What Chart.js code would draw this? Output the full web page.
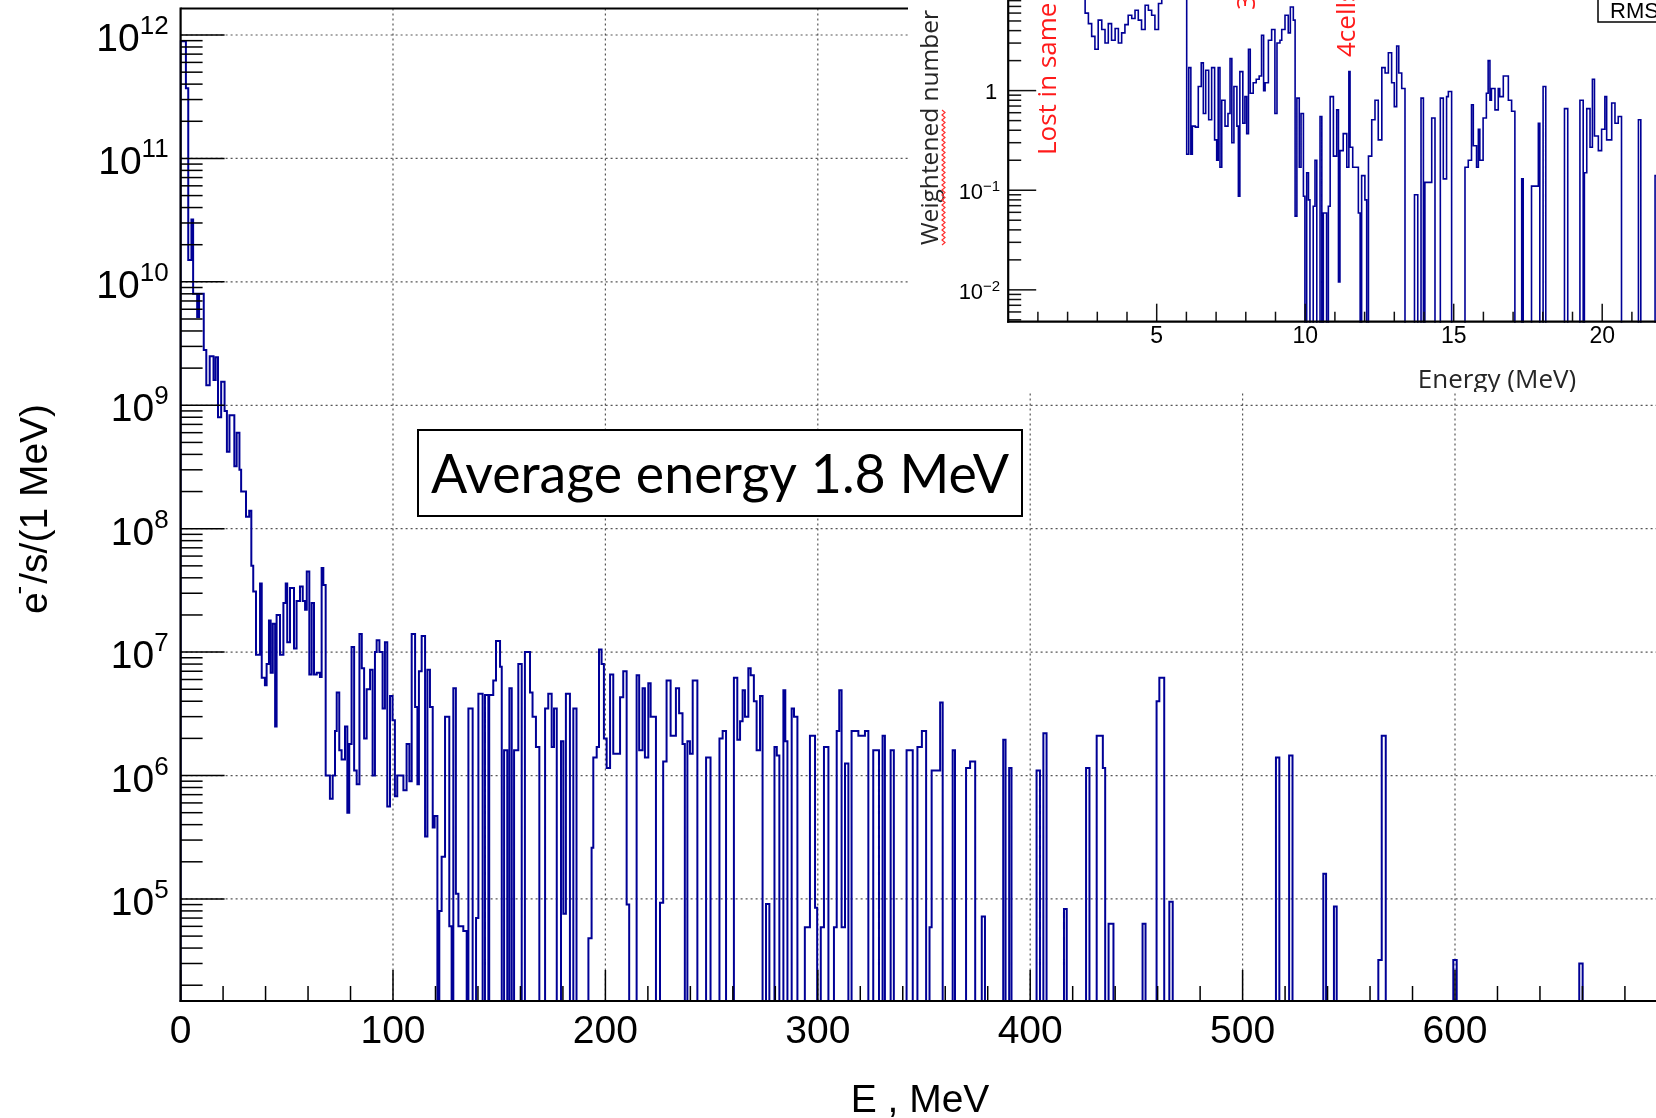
<!DOCTYPE html>
<html>
<head>
<meta charset="utf-8">
<title>Electron energy spectrum</title>
<script src="https://cdn.jsdelivr.net/npm/chart.js@4.4.1/dist/chart.umd.min.js"></script>
<style>
  html, body { margin:0; padding:0; background:#fff; }
  body { width:1656px; height:1118px; overflow:hidden; position:relative; }
  canvas { position:absolute; display:block; }
  #mainChart { left:0; top:0; }
  #insetChart { left:908px; top:-50px; }
</style>
</head>
<body>
<canvas id="mainChart" width="1680" height="1118"></canvas>
<canvas id="insetChart" width="860" height="442"></canvas>
<script>
// ---------------- MAIN HISTOGRAM (bin low edge in MeV, e-/s per MeV; 0 = empty bin) ----------------
const mainEnergyMeV = [
  0, 0, 2.5, 3.6, 5.1, 5.9, 7.8, 8.7, 10.9, 12.1,
  13.7, 15.5, 16.5, 17.6, 19.1, 20.7, 21.8, 23, 25.3, 26.4,
  27.7, 28.5, 30.8, 32.3, 33.3, 34.2, 35.5, 37.4, 38.2, 39.7,
  40.5, 41.6, 42.4, 43.4, 44.5, 45.2, 46.8, 48.4, 49.5, 50.2,
  51.5, 53.4, 54.6, 56.2, 57.5, 58.6, 59.4, 60.6, 61.7, 62.8,
  64.1, 65.6, 66.4, 67.2, 68.3, 70.3, 71.6, 72.7, 73.5, 74.7,
  75.8, 77.4, 78.5, 79.4, 80.5, 81.7, 82.9, 84.2, 85.3, 86.4,
  87.6, 89.2, 90.4, 91.5, 92.3, 93.6, 95.1, 96.2, 97.3, 98.6,
  99.8, 100.9, 102.0, 104.9, 106.4, 107.7, 108.8, 110.4, 111.5, 112.2,
  113.5, 115.1, 116.2, 117.4, 118.7, 119.6, 120.9, 121.8, 122.9, 124.5,
  126.5, 127.6, 128.4, 129.6, 130.8, 133.1, 134.7, 135.5, 137.5, 139.1,
  140.2, 142.2, 143.3, 144.9, 145.3, 147.2, 148.5, 150.4, 151.2, 152.3,
  153.8, 154.8, 155.9, 157.0, 159.0, 160.6, 162.1, 164.5, 165.7, 167.3,
  168.9, 171.6, 173.1, 174.7, 175.8, 177.1, 179.1, 180.2, 181.4, 183.3,
  184.9, 186.4, 192.0, 193.5, 194.3, 195.9, 197.0, 198.2, 199.3, 200.6,
  202.2, 203.7, 205.3, 206.9, 208.4, 210.0, 211.2, 214.7, 215.9, 217.5,
  218.6, 220.2, 221.3, 223.8, 225.7, 227.2, 228.8, 230.7, 233.2, 234.7,
  236.3, 237.4, 238.6, 239.8, 241.1, 243.3, 247.4, 249.5, 253.7, 255.2,
  256.8, 260.5, 262.1, 263.4, 264.6, 265.7, 267.3, 268.4, 269.9, 271.2,
  272.8, 274.0, 275.6, 277.2, 279.6, 280.7, 281.9, 283.8, 284.7, 285.7,
  287.7, 288.8, 290.4, 293.9, 296.3, 298.7, 299.7, 301.4, 302.9, 305.0,
  307.6, 308.9, 310.1, 311.2, 312.8, 314.4, 315.9, 319.1, 322.2, 323.8,
  326.1, 328.8, 330.5, 331.6, 334.3, 335.8, 341.8, 344.7, 346.9, 349.0,
  351.0, 352.6, 353.6, 357.6, 358.8, 363.5, 364.6, 369.8, 371.7, 374.1,
  377.2, 378.7, 387.3, 388.4, 390.1, 391.2, 403.0, 404.6, 406.2, 407.7,
  415.9, 417.2, 426.3, 427.9, 431.3, 434.2, 435.3, 436.9, 439.2, 452.9,
  454.3, 459.5, 460.8, 463.1, 465.5, 467.1, 515.7, 517.3, 521.9, 523.5,
  538.0, 539.3, 543.0, 544.3, 563.9, 565.5, 567.4, 599.2, 600.8, 658.5,
  660.1, 700
];
const mainRate = [
  0, 8.9e11, 3.7e11, 1.5e10, 3.2e10, 8e9, 5.2e9, 8e9, 2.8e9, 1.45e9,
  2.5e9, 1.6e9, 2.45e9, 8e8, 1.55e9, 9e8, 4.2e8, 8.3e8, 3.2e8, 6e8,
  3e8, 2e8, 1.25e8, 1.4e8, 5e7, 3.1e7, 9.5e6, 3.6e7, 6.2e6, 5.4e6,
  8e6, 1.8e7, 6.8e6, 1.7e7, 2.5e6, 2e7, 9.5e6, 2.5e7, 3.6e7, 1.2e7,
  3.3e7, 1.07e7, 2.6e7, 3.4e7, 2.6e7, 2.2e7, 4.5e7, 6.6e6, 2.5e7, 6.6e6,
  6.8e6, 6.3e6, 4.8e7, 3.5e7, 1e6, 6.5e5, 1e6, 2.3e6, 4.7e6, 1.6e6,
  1.35e6, 2.5e6, 5e5, 1.8e6, 1.1e7, 1.1e6, 8.5e5, 1.4e7, 7.4e6, 2e6,
  5e6, 7.2e6, 1e6, 1e7, 1.25e7, 1e7, 3.5e6, 1.2e7, 5.6e5, 4.4e6,
  2.8e6, 6.8e5, 1e6, 7.6e5, 1.8e6, 9e5, 1.4e7, 3.6e6, 8.5e5, 7e6,
  1.35e7, 3.2e5, 7.2e6, 3.6e6, 3.8e5, 4.7e5, 0, 8e4, 2.2e5, 3e6,
  6e4, 0, 5.1e6, 1.1e5, 6e4, 5.5e4, 0, 3.5e6, 0, 7e4,
  4.6e6, 0, 4.5e6, 0, 4.5e6, 5.9e6, 1.23e7, 7.6e6, 0, 1.6e6,
  0, 5.1e6, 0, 1.6e6, 8e6, 0, 1e7, 4.7e6, 3e6, 1.7e6,
  0, 3.5e6, 4.6e6, 1.7e6, 3.5e6, 0, 1.9e6, 7.6e4, 4.6e6, 0,
  3.5e6, 0, 4.8e4, 2.6e5, 1.4e6, 1.7e6, 1.05e7, 8e6, 2e6, 1.15e6,
  6.6e6, 1.5e6, 1.5e6, 4.3e6, 7e6, 9e4, 0, 6.5e6, 1.6e6, 5.1e6,
  1.4e6, 5.6e6, 3e6, 0, 9.3e4, 1.3e6, 5.9e6, 2.1e6, 5.1e6, 3.2e6,
  1.8e6, 0, 1.9e6, 1.5e6, 5.9e6, 0, 1.4e6, 0, 2e6, 2.3e6,
  0, 6.2e6, 1.95e6, 2.75e6, 4.9e6, 3e6, 7.4e6, 6.5e6, 4e6, 1.6e6,
  4.4e6, 0, 9.1e4, 0, 1.7e6, 1.45e6, 0, 4.9e6, 1.9e6, 0,
  3.5e6, 3e6, 0, 5.9e4, 2.1e6, 8.5e4, 0, 5.9e4, 1.7e6, 0,
  5.9e4, 2.3e6, 4.9e6, 5.9e4, 1.25e6, 0, 2.3e6, 2.1e6, 2.3e6, 0,
  1.6e6, 0, 2.1e6, 0, 1.6e6, 0, 1.6e6, 0, 1.7e6, 2.3e6,
  0, 5.9e4, 1.1e6, 3.9e6, 0, 1.6e6, 0, 1.15e6, 1.3e6, 0,
  7.2e4, 0, 1.95e6, 0, 1.15e6, 0, 1.1e6, 0, 2.2e6, 0,
  8.3e4, 0, 1.15e6, 0, 2.1e6, 1.15e6, 0, 6.3e4, 0, 6.3e4,
  0, 4e6, 6.2e6, 0, 9.5e4, 0, 1.4e6, 0, 1.45e6, 0,
  1.6e5, 0, 8.7e4, 0, 3.2e4, 2.1e6, 0, 3.2e4, 0, 3e4,
  0, 0
];
const mainXTicks = [0, 100, 200, 300, 400, 500, 600];
const mainXTickLabels = ['0', '100', '200', '300', '400', '500', '600'];
const mainYDecades = [5, 6, 7, 8, 9, 10, 11, 12];
const mainXRange = [0, 700];
const mainYRange = [1.49e4, 1.64e12];

// ---------------- INSET HISTOGRAM (bin low edge in MeV, weighted number; 0 = empty bin) ----------------
const insetEnergyMeV = [
  0, 2.59, 2.70, 2.81, 2.92, 3.03, 3.15, 3.26, 3.37, 3.48,
  3.60, 3.71, 3.82, 3.93, 4.04, 4.16, 4.27, 4.38, 4.49, 4.61,
  4.72, 4.83, 4.94, 5.06, 5.17, 6.01, 6.08, 6.15, 6.20, 6.30,
  6.40, 6.50, 6.57, 6.65, 6.75, 6.85, 6.95, 7.02, 7.07, 7.13,
  7.19, 7.30, 7.40, 7.47, 7.53, 7.60, 7.70, 7.75, 7.80, 7.90,
  7.97, 8.03, 8.09, 8.15, 8.25, 8.35, 8.45, 8.53, 8.60, 8.65,
  8.76, 8.87, 8.98, 9.05, 9.15, 9.21, 9.32, 9.43, 9.50, 9.60,
  9.66, 9.72, 9.80, 9.86, 9.94, 9.99, 10.05, 10.11, 10.16, 10.27,
  10.33, 10.39, 10.50, 10.56, 10.61, 10.72, 10.78, 10.84, 10.95, 11.06,
  11.12, 11.17, 11.28, 11.40, 11.47, 11.51, 11.60, 11.79, 11.85, 11.90,
  12.01, 12.07, 12.13, 12.24, 12.35, 12.46, 12.58, 12.69, 12.80, 12.91,
  13.00, 13.08, 13.15, 13.25, 13.36, 13.68, 13.79, 13.90, 13.98, 14.03,
  14.26, 14.37, 14.55, 14.65, 14.76, 14.82, 14.93, 15.38, 15.49, 15.60,
  15.66, 15.77, 15.83, 15.88, 15.99, 16.10, 16.16, 16.22, 16.27, 16.39,
  16.50, 16.55, 16.67, 16.84, 16.95, 17.06, 17.29, 17.34, 17.62, 17.85,
  17.90, 18.01, 18.10, 18.73, 18.84, 19.25, 19.36, 19.40, 19.48, 19.59,
  19.67, 19.74, 19.87, 19.98, 20.09, 20.15, 20.32, 20.43, 20.54, 20.65,
  21.22, 21.30, 21.78, 21.90, 25
];
const insetWeight = [
  30, 6.0, 4.7, 3.5, 2.6, 5.1, 4.1, 3.0, 4.7, 3.2,
  4.2, 3.0, 3.8, 4.6, 5.7, 5.3, 6.4, 5.1, 4.1, 7.2,
  6.4, 5.7, 4.1, 7.5, 30, 0.23, 1.7, 0.23, 0.44, 0.43,
  1.1, 1.9, 0.59, 1.6, 0.51, 1.7, 0.32, 0.2, 1.7, 0.17,
  0.8, 0.44, 0.59, 2.1, 0.3, 1.1, 0.44, 0.087, 1.55, 0.47,
  0.87, 0.37, 2.6, 0.94, 1.2, 1.3, 1.4, 3.6, 1.0, 1.2,
  3.2, 4.1, 0.59, 3.0, 3.2, 4.1, 5.7, 3.8, 6.9, 5.1,
  0.055, 0.84, 0.17, 0.59, 0.087, 0, 0.15, 0.08, 0, 0.069,
  0.2, 0, 0.55, 0, 0.059, 0, 0.069, 0.87, 0.22, 0.64,
  0.012, 0.25, 0.37, 0.17, 1.55, 0.27, 0.17, 0.059, 0, 0.14,
  0.08, 0, 0.22, 0.51, 0.8, 0.32, 1.7, 1.5, 2.4, 1.2,
  0.69, 2.8, 1.5, 1.05, 0, 0.09, 0, 0.84, 0, 0.12,
  0.53, 0, 0.84, 0.13, 0.87, 0.98, 0, 0.17, 0.2, 0.72,
  0.28, 0.17, 0.41, 0.2, 0.53, 0.94, 2.0, 0.8, 1.05, 0.64,
  1.05, 0.87, 1.4, 0.8, 0.62, 0, 0.13, 0, 0.11, 0.47,
  0, 1.1, 0, 0.66, 0, 0.8, 0, 0.15, 0.66, 0.27,
  1.3, 0.35, 0.25, 0.41, 0.87, 0.32, 0.75, 0.47, 0.55, 0,
  0.51, 0, 0.14, 0, 0
];
const insetXTicks = [5, 10, 15, 20];
const insetXTickLabels = ['5', '10', '15', '20'];
const insetYDecades = [-2, -1, 0, 1];
const insetXRange = [0, 25];
const insetYRange = [0.00479, 19.95];

// ---------------- helpers ----------------
const HELV = '"Liberation Sans", Arial, Helvetica, sans-serif';
const SANS2 = '"Open Sans", "Noto Sans", sans-serif';
function seg(ctx, x1, y1, x2, y2) { ctx.beginPath(); ctx.moveTo(x1, y1); ctx.lineTo(x2, y2); ctx.stroke(); }
function supLabel(ctx, base, sup, xRight, yBase, baseFont, supFont, raise) {
  ctx.textAlign = 'left';
  ctx.font = supFont; const ws = ctx.measureText(sup).width;
  ctx.font = baseFont; const wb = ctx.measureText(base).width;
  ctx.fillText(base, xRight - ws - wb, yBase);
  ctx.font = supFont; ctx.fillText(sup, xRight - ws, yBase - raise);
}
// empty bins (0) are drawn down past the bottom of the log axis, like ROOT does
function toPoints(xs, ys, floor) { return xs.map((e, i) => ({ x: e, y: ys[i] > 0 ? ys[i] : floor })); }

// ---------------- main chart decorations ----------------
const mainDecor = {
  id: 'mainDecor',
  beforeDraw(chart) {
    const c = chart.ctx; c.save(); c.fillStyle = '#fff'; c.fillRect(0, 0, chart.width, chart.height); c.restore();
  },
  beforeDatasetsDraw(chart) {
    const { ctx, chartArea: a, scales: { x, y } } = chart;
    ctx.save();
    ctx.strokeStyle = 'rgba(30,30,30,0.75)'; ctx.lineWidth = 1.2; ctx.setLineDash([2, 3]);
    mainYDecades.forEach(d => { const py = y.getPixelForValue(Math.pow(10, d)); seg(ctx, a.left, py, a.right, py); });
    mainXTicks.forEach(t => { if (t === 0) return; const px = x.getPixelForValue(t); seg(ctx, px, a.top, px, a.bottom); });
    ctx.restore();
  },
  afterDatasetsDraw(chart) {
    const { ctx, chartArea: a, scales: { x, y } } = chart;
    ctx.save();
    ctx.strokeStyle = '#000'; ctx.lineWidth = 1.5;
    const dLo = Math.floor(Math.log10(y.min)), dHi = Math.ceil(Math.log10(y.max));
    for (let d = dLo; d <= dHi; d++) {
      for (let m = 1; m <= 9; m++) {
        const v = m * Math.pow(10, d);
        if (v < y.min || v > y.max) continue;
        const py = y.getPixelForValue(v);
        seg(ctx, a.left, py, a.left + (m === 1 ? 44 : 22), py);
      }
    }
    for (let t = 0; t <= x.max; t += 20) {
      const px = x.getPixelForValue(t);
      seg(ctx, px, a.bottom, px, a.bottom - (t % 100 === 0 ? 31 : 15));
    }
    ctx.lineWidth = 2.2;
    seg(ctx, a.left, a.top, a.right, a.top);
    seg(ctx, a.left, a.top - 1, a.left, a.bottom + 1);
    seg(ctx, a.left - 1, a.bottom, a.right, a.bottom);

    ctx.fillStyle = '#000';
    mainYDecades.forEach(d => {
      const py = y.getPixelForValue(Math.pow(10, d));
      supLabel(ctx, '10', String(d), a.left - 12, py + 16, '39px ' + HELV, '26px ' + HELV, 17);
    });
    ctx.font = '39px ' + HELV; ctx.textAlign = 'center'; ctx.textBaseline = 'alphabetic';
    mainXTicks.forEach((t, i) => ctx.fillText(mainXTickLabels[i], x.getPixelForValue(t), a.bottom + 42));
    ctx.fillText('E , MeV', (a.left + a.right) / 2 - 4, a.bottom + 111);

    ctx.save();
    ctx.translate(47, 509);
    ctx.rotate(-Math.PI / 2);
    const p1 = 'e', p3 = '/s/(1 MeV)';
    ctx.font = '39px ' + HELV; const w1 = ctx.measureText(p1).width, w3 = ctx.measureText(p3).width;
    ctx.font = '26px ' + HELV; const w2 = ctx.measureText('-').width;
    const tot = w1 + w2 + w3;
    let cx = -tot / 2;
    ctx.textAlign = 'left';
    ctx.font = '39px ' + HELV; ctx.fillText(p1, cx, 0); cx += w1;
    ctx.font = '26px ' + HELV; ctx.fillText('-', cx - 2, -20); cx += w2;
    ctx.font = '39px ' + HELV; ctx.fillText(p3, cx, 0);
    ctx.restore();

    ctx.fillStyle = '#fff';
    ctx.fillRect(418, 430, 604, 86);
    ctx.strokeStyle = '#000'; ctx.lineWidth = 2;
    ctx.strokeRect(418, 430, 604, 86);
    ctx.fillStyle = '#000';
    const txt = 'Average energy 1.8 MeV';
    ctx.font = '56px Lato, "Open Sans", sans-serif';
    const tw = ctx.measureText(txt).width;
    const fs = 56 * 578 / tw;
    ctx.font = fs.toFixed(1) + 'px Lato, "Open Sans", sans-serif';
    ctx.textAlign = 'left';
    ctx.fillText(txt, 431, 493);
    ctx.restore();
  }
};

new Chart(document.getElementById('mainChart'), {
  type: 'line',
  data: { datasets: [{
    data: toPoints(mainEnergyMeV, mainRate, mainYRange[0] / 100),
    stepped: 'before', borderColor: '#000096', borderWidth: 2, pointRadius: 0,
    fill: false, clip: 1, borderJoinStyle: 'miter'
  }] },
  options: {
    responsive: false, animation: false, devicePixelRatio: 1, events: [],
    layout: { padding: { left: 180.6, right: 12.6, top: 8.5, bottom: 117 } },
    plugins: { legend: { display: false }, tooltip: { enabled: false } },
    scales: {
      x: { type: 'linear', min: mainXRange[0], max: mainXRange[1], display: false },
      y: { type: 'logarithmic', min: mainYRange[0], max: mainYRange[1], display: false }
    }
  },
  plugins: [mainDecor]
});

// ---------------- inset chart ----------------
const OX = 908, OY = -50;
const insetDecor = {
  id: 'insetDecor',
  beforeDraw(chart) {
    const c = chart.ctx; c.save(); c.fillStyle = '#fff'; c.fillRect(0, 0, chart.width, chart.height); c.restore();
  },
  afterDatasetsDraw(chart) {
    const { ctx, chartArea: a, scales: { x, y } } = chart;
    ctx.save();
    ctx.strokeStyle = '#111'; ctx.lineWidth = 1.5;
    const dLo = Math.floor(Math.log10(y.min)), dHi = Math.ceil(Math.log10(y.max));
    for (let d = dLo; d <= dHi; d++) {
      for (let m = 1; m <= 9; m++) {
        const v = m * Math.pow(10, d);
        if (v < y.min || v > y.max) continue;
        const py = y.getPixelForValue(v);
        seg(ctx, a.left, py, a.left + (m === 1 ? 28 : 13), py);
      }
    }
    for (let t = 1; t <= x.max; t += 1) {
      const px = x.getPixelForValue(t);
      seg(ctx, px, a.bottom, px, a.bottom - (t % 5 === 0 ? 18 : 10));
    }
    ctx.lineWidth = 2.2; ctx.strokeStyle = '#000';
    seg(ctx, a.left, 0, a.left, a.bottom + 1);
    seg(ctx, a.left - 1, a.bottom, a.right, a.bottom);

    ctx.fillStyle = '#000';
    insetYDecades.forEach(d => {
      const py = y.getPixelForValue(Math.pow(10, d));
      if (d === 0) { ctx.font = '22px ' + HELV; ctx.textAlign = 'right'; ctx.fillText('1', a.left - 11, py + 8); }
      else if (d === 1) { ctx.font = '22px ' + HELV; ctx.textAlign = 'right'; ctx.fillText('10', a.left - 9, py + 8); }
      else supLabel(ctx, '10', '\u2212' + (-d), a.left - 8, py + 9, '22px ' + HELV, '15px ' + HELV, 8);
    });
    ctx.font = '23px ' + HELV; ctx.textAlign = 'center';
    insetXTicks.forEach((t, i) => ctx.fillText(insetXTickLabels[i], x.getPixelForValue(t), a.bottom + 21));

    ctx.fillStyle = '#262626';
    ctx.font = '26px ' + SANS2; ctx.textAlign = 'center';
    ctx.fillText('Energy (MeV)', 1497 - OX, 388 - OY);

    ctx.save();
    ctx.translate(938 - OX, 245 - OY); ctx.rotate(-Math.PI / 2);
    ctx.font = '24.5px ' + SANS2; ctx.textAlign = 'left';
    ctx.fillText('Weightened number', 0, 0);
    const ww = ctx.measureText('Weightened').width;
    ctx.strokeStyle = '#ff3030'; ctx.lineWidth = 1.2;
    ctx.beginPath();
    for (let s = 0, k = 0; s <= ww; s += 2.5, k++) {
      const yy = 5 + (k % 2 ? 2 : -1);
      if (k === 0) ctx.moveTo(s, yy); else ctx.lineTo(s, yy);
    }
    ctx.stroke();
    ctx.restore();

    ctx.fillStyle = '#ff1a1a';
    ctx.font = '26px ' + SANS2; ctx.textAlign = 'left';
    [['Lost in same cell', 1056, 155], ['3cells', 1255, 10], ['4cells', 1355, 57]].forEach(([t, bx, by]) => {
      ctx.save(); ctx.translate(bx - OX, by - OY); ctx.rotate(-Math.PI / 2); ctx.fillText(t, 0, 0); ctx.restore();
    });

    ctx.fillStyle = '#fff'; ctx.strokeStyle = '#000'; ctx.lineWidth = 1.5;
    ctx.fillRect(1598 - OX, 0, 200, 22 - OY);
    ctx.strokeRect(1598 - OX, -5, 200, 22 - OY + 5);
    ctx.fillStyle = '#000'; ctx.font = '22px ' + HELV; ctx.textAlign = 'left';
    ctx.fillText('RMS', 1610 - OX, 18 - OY);
    ctx.restore();
  }
};

new Chart(document.getElementById('insetChart'), {
  type: 'line',
  data: { datasets: [{
    data: toPoints(insetEnergyMeV, insetWeight, insetYRange[0] / 100),
    stepped: 'before', borderColor: '#000096', borderWidth: 1.6, pointRadius: 0,
    fill: false, clip: 1, borderJoinStyle: 'miter'
  }] },
  options: {
    responsive: false, animation: false, devicePixelRatio: 1, events: [],
    layout: { padding: { left: 100.2, right: 17.3, top: 11.1, bottom: 70.3 } },
    plugins: { legend: { display: false }, tooltip: { enabled: false } },
    scales: {
      x: { type: 'linear', min: insetXRange[0], max: insetXRange[1], display: false },
      y: { type: 'logarithmic', min: insetYRange[0], max: insetYRange[1], display: false }
    }
  },
  plugins: [insetDecor]
});
</script>
</body>
</html>
